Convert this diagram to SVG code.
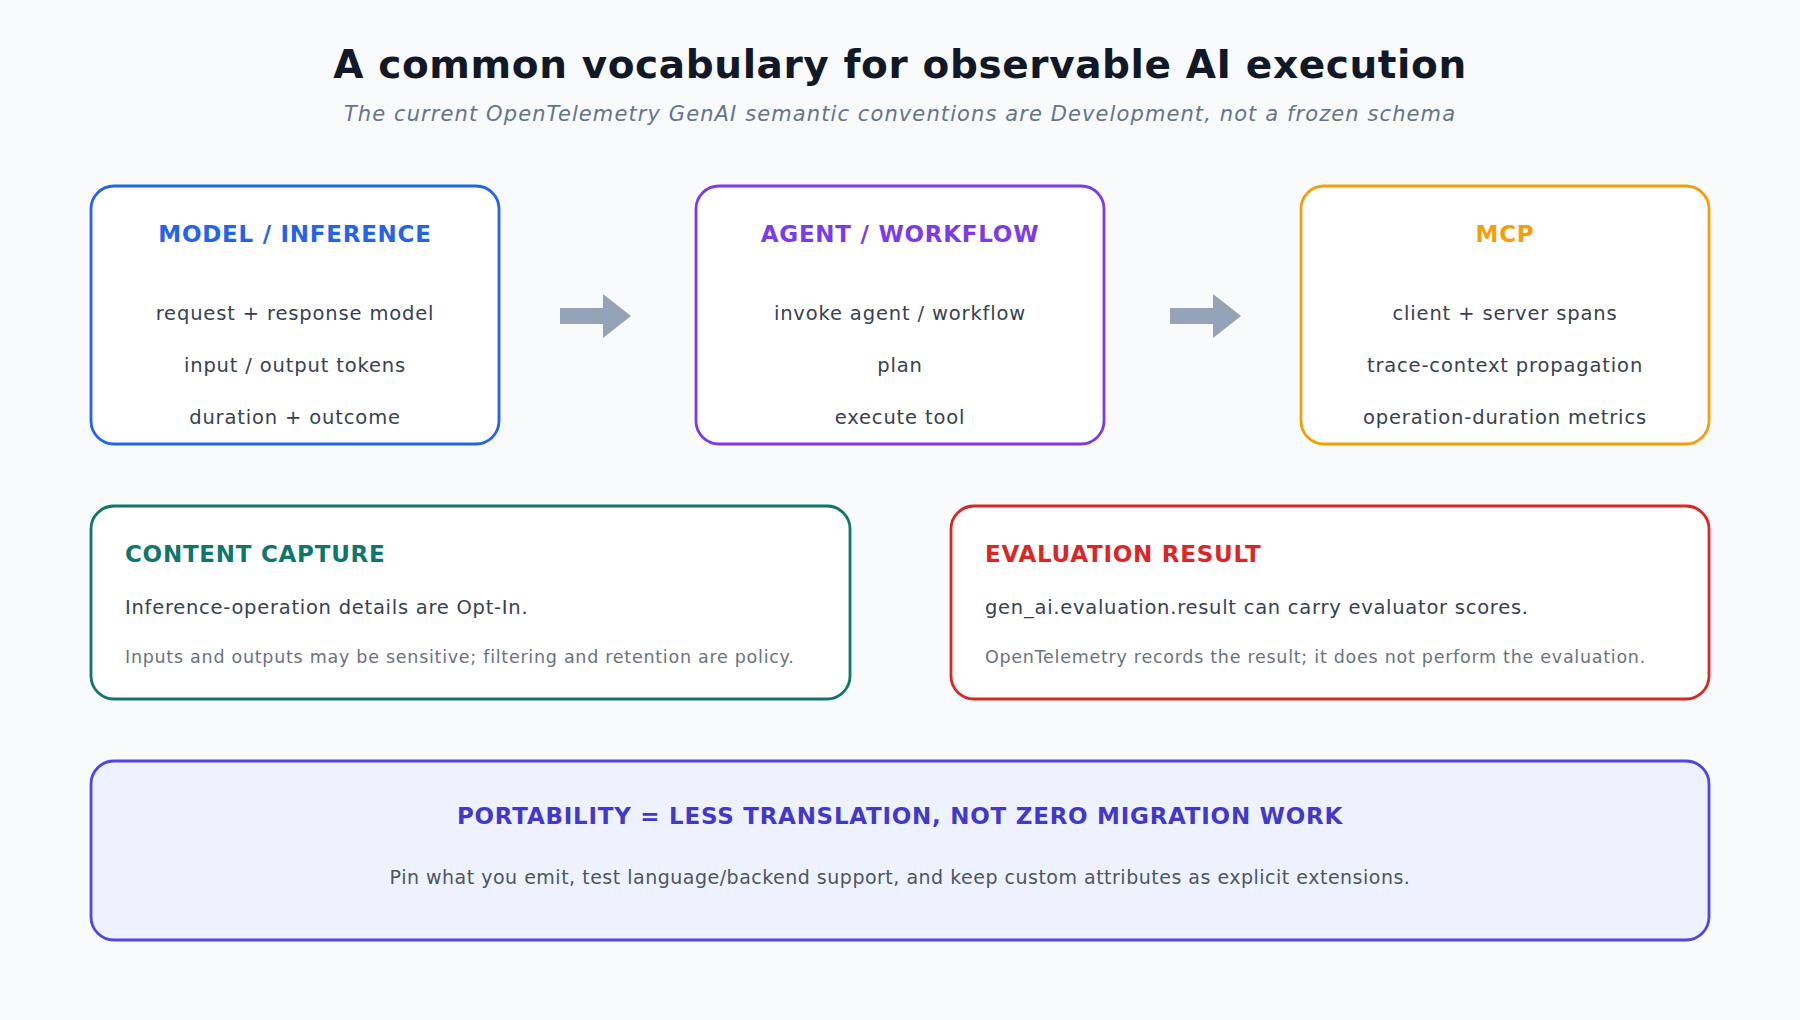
<svg xmlns="http://www.w3.org/2000/svg" width="1800" height="1020" viewBox="0 0 1800 1020">
<style>
text{font-family:"DejaVu Sans",sans-serif}
.box{fill:#fff;stroke-width:2.8}
.h{font-size:23px;font-weight:bold;letter-spacing:0.74px}
.item{font-size:19.5px;fill:#374151;text-anchor:middle;letter-spacing:0.85px}
.l1{font-size:19.5px;fill:#374151;letter-spacing:0.74px}
.l2{font-size:17.5px;fill:#6b7280;letter-spacing:0.73px}
</style>
<rect width="1800" height="1020" fill="#f8fafc"/>
<text x="900" y="78" text-anchor="middle" font-size="39" font-weight="bold" fill="#111827" letter-spacing="0.6">A common vocabulary for observable AI execution</text>
<text x="900" y="121" text-anchor="middle" font-size="21" font-style="italic" fill="#64748b" letter-spacing="1.1">The current OpenTelemetry GenAI semantic conventions are Development, not a frozen schema</text>
<g id="model">
<rect class="box" x="91" y="186" width="408" height="258" rx="23" stroke="#2563eb"/>
<text class="h" x="295" y="242" text-anchor="middle" fill="#2563eb">MODEL / INFERENCE</text>
<text class="item" x="295" y="320">request + response model</text>
<text class="item" x="295" y="372">input / output tokens</text>
<text class="item" x="295" y="424">duration + outcome</text>
</g>
<g id="agent">
<rect class="box" x="696" y="186" width="408" height="258" rx="23" stroke="#7c3aed"/>
<text class="h" x="900" y="242" text-anchor="middle" fill="#7c3aed">AGENT / WORKFLOW</text>
<text class="item" x="900" y="320">invoke agent / workflow</text>
<text class="item" x="900" y="372">plan</text>
<text class="item" x="900" y="424">execute tool</text>
</g>
<g id="mcp">
<rect class="box" x="1301" y="186" width="408" height="258" rx="23" stroke="#f59e0b"/>
<text class="h" x="1505" y="242" text-anchor="middle" fill="#f59e0b">MCP</text>
<text class="item" x="1505" y="320">client + server spans</text>
<text class="item" x="1505" y="372">trace-context propagation</text>
<text class="item" x="1505" y="424">operation-duration metrics</text>
</g>
<g id="connectors" fill="#94a3b8">
<polygon points="560,308 603,308 603,294 631,316 603,338 603,324 560,324"/>
<polygon points="1170,308 1213,308 1213,294 1241,316 1213,338 1213,324 1170,324"/>
</g>
<g id="content">
<rect class="box" x="91" y="506" width="759" height="193" rx="23" stroke="#0f766e"/>
<text class="h" x="125" y="562" fill="#0f766e">CONTENT CAPTURE</text>
<text class="l1" x="125" y="614">Inference-operation details are Opt-In.</text>
<text class="l2" x="125" y="663">Inputs and outputs may be sensitive; filtering and retention are policy.</text>
</g>
<g id="eval">
<rect class="box" x="951" y="506" width="758" height="193" rx="23" stroke="#dc2626"/>
<text class="h" x="985" y="562" fill="#dc2626">EVALUATION RESULT</text>
<text class="l1" x="985" y="614">gen_ai.evaluation.result can carry evaluator scores.</text>
<text class="l2" x="985" y="663">OpenTelemetry records the result; it does not perform the evaluation.</text>
</g>
<g id="portability">
<rect x="91" y="761" width="1618" height="179" rx="23" fill="#eef2ff" stroke="#4f46e5" stroke-width="2.8"/>
<text class="h" x="900" y="824" text-anchor="middle" fill="#4338ca">PORTABILITY = LESS TRANSLATION, NOT ZERO MIGRATION WORK</text>
<text x="900" y="884" text-anchor="middle" font-size="19" fill="#4b5563" letter-spacing="0.5">Pin what you emit, test language/backend support, and keep custom attributes as explicit extensions.</text>
</g>
</svg>
